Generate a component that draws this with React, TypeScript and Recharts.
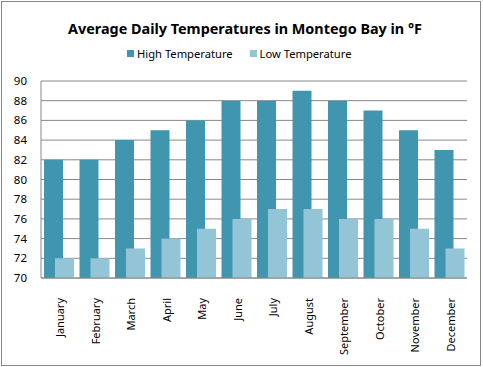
import { BarChart, Bar, XAxis, YAxis, CartesianGrid } from "recharts";

const months = [
  "January", "February", "March", "April", "May", "June",
  "July", "August", "September", "October", "November", "December",
];
const highTemps = [82, 82, 84, 85, 86, 88, 88, 89, 88, 87, 85, 83];
const lowTemps = [72, 72, 73, 74, 75, 76, 77, 77, 76, 76, 75, 73];
const yTicks = [70, 72, 74, 76, 78, 80, 82, 84, 86, 88, 90];

const HIGH = "#4096ae";
const LOW = "#93c5d6";
const FONT = "'Noto Sans', sans-serif";

const data = months.map((m, i) => ({ month: m, high: highTemps[i], low: lowTemps[i] }));

function MonthTick(props: any) {
  const { x, y, payload } = props;
  return (
    <text
      transform={`translate(${x + 1},${y + 12}) rotate(-90)`}
      textAnchor="end"
      dominantBaseline="central"
      fontSize={11}
      fontFamily={FONT}
      fill="#000"
    >
      {payload.value}
    </text>
  );
}

export default function App() {
  return (
    <div style={{ position: "absolute", left: 0, top: 0, width: 483, height: 367, background: "#fff" }}>
      <div
        style={{
          position: "absolute", left: 1, top: 1, width: 480, height: 365,
          boxSizing: "border-box", border: "1px solid #888",
        }}
      />
      <div
        style={{
          position: "absolute", left: 0, top: 19, width: 490, textAlign: "center",
          fontFamily: FONT, fontWeight: "bold", fontSize: 14.4, color: "#000",
        }}
      >
        Average Daily Temperatures in Montego Bay in °F
      </div>
      <div
        style={{
          position: "absolute", left: 127, top: 46, fontFamily: FONT, fontSize: 11.2,
          display: "flex", alignItems: "center", color: "#000",
        }}
      >
        <span style={{ width: 7, height: 7, background: HIGH, marginRight: 3 }} />
        <span>High Temperature</span>
        <span style={{ width: 7, height: 7, background: LOW, marginLeft: 17, marginRight: 3 }} />
        <span>Low Temperature</span>
      </div>
      <div style={{ position: "absolute", left: 0, top: 0 }}>
        <BarChart
          width={483}
          height={367}
          data={data}
          margin={{ top: 81, right: 16, bottom: 9, left: 0 }}
          barSize={19}
          barGap={-8}
          barCategoryGap={0}
        >
          <CartesianGrid vertical={false} stroke="#888" />
          <XAxis
            dataKey="month"
            interval={0}
            height={80}
            tick={<MonthTick />}
            tickLine={false}
            axisLine={{ stroke: "#888" }}
          />
          <YAxis
            width={41}
            domain={[70, 90]}
            ticks={yTicks}
            interval={0}
            allowDataOverflow
            tickLine={false}
            tickMargin={8}
            axisLine={{ stroke: "#888" }}
            tick={{ fill: "#000", fontSize: 11.5, fontFamily: FONT }}
          />
          <Bar dataKey="high" fill={HIGH} isAnimationActive={false} />
          <Bar dataKey="low" fill={LOW} isAnimationActive={false} />
        </BarChart>
      </div>
    </div>
  );
}
